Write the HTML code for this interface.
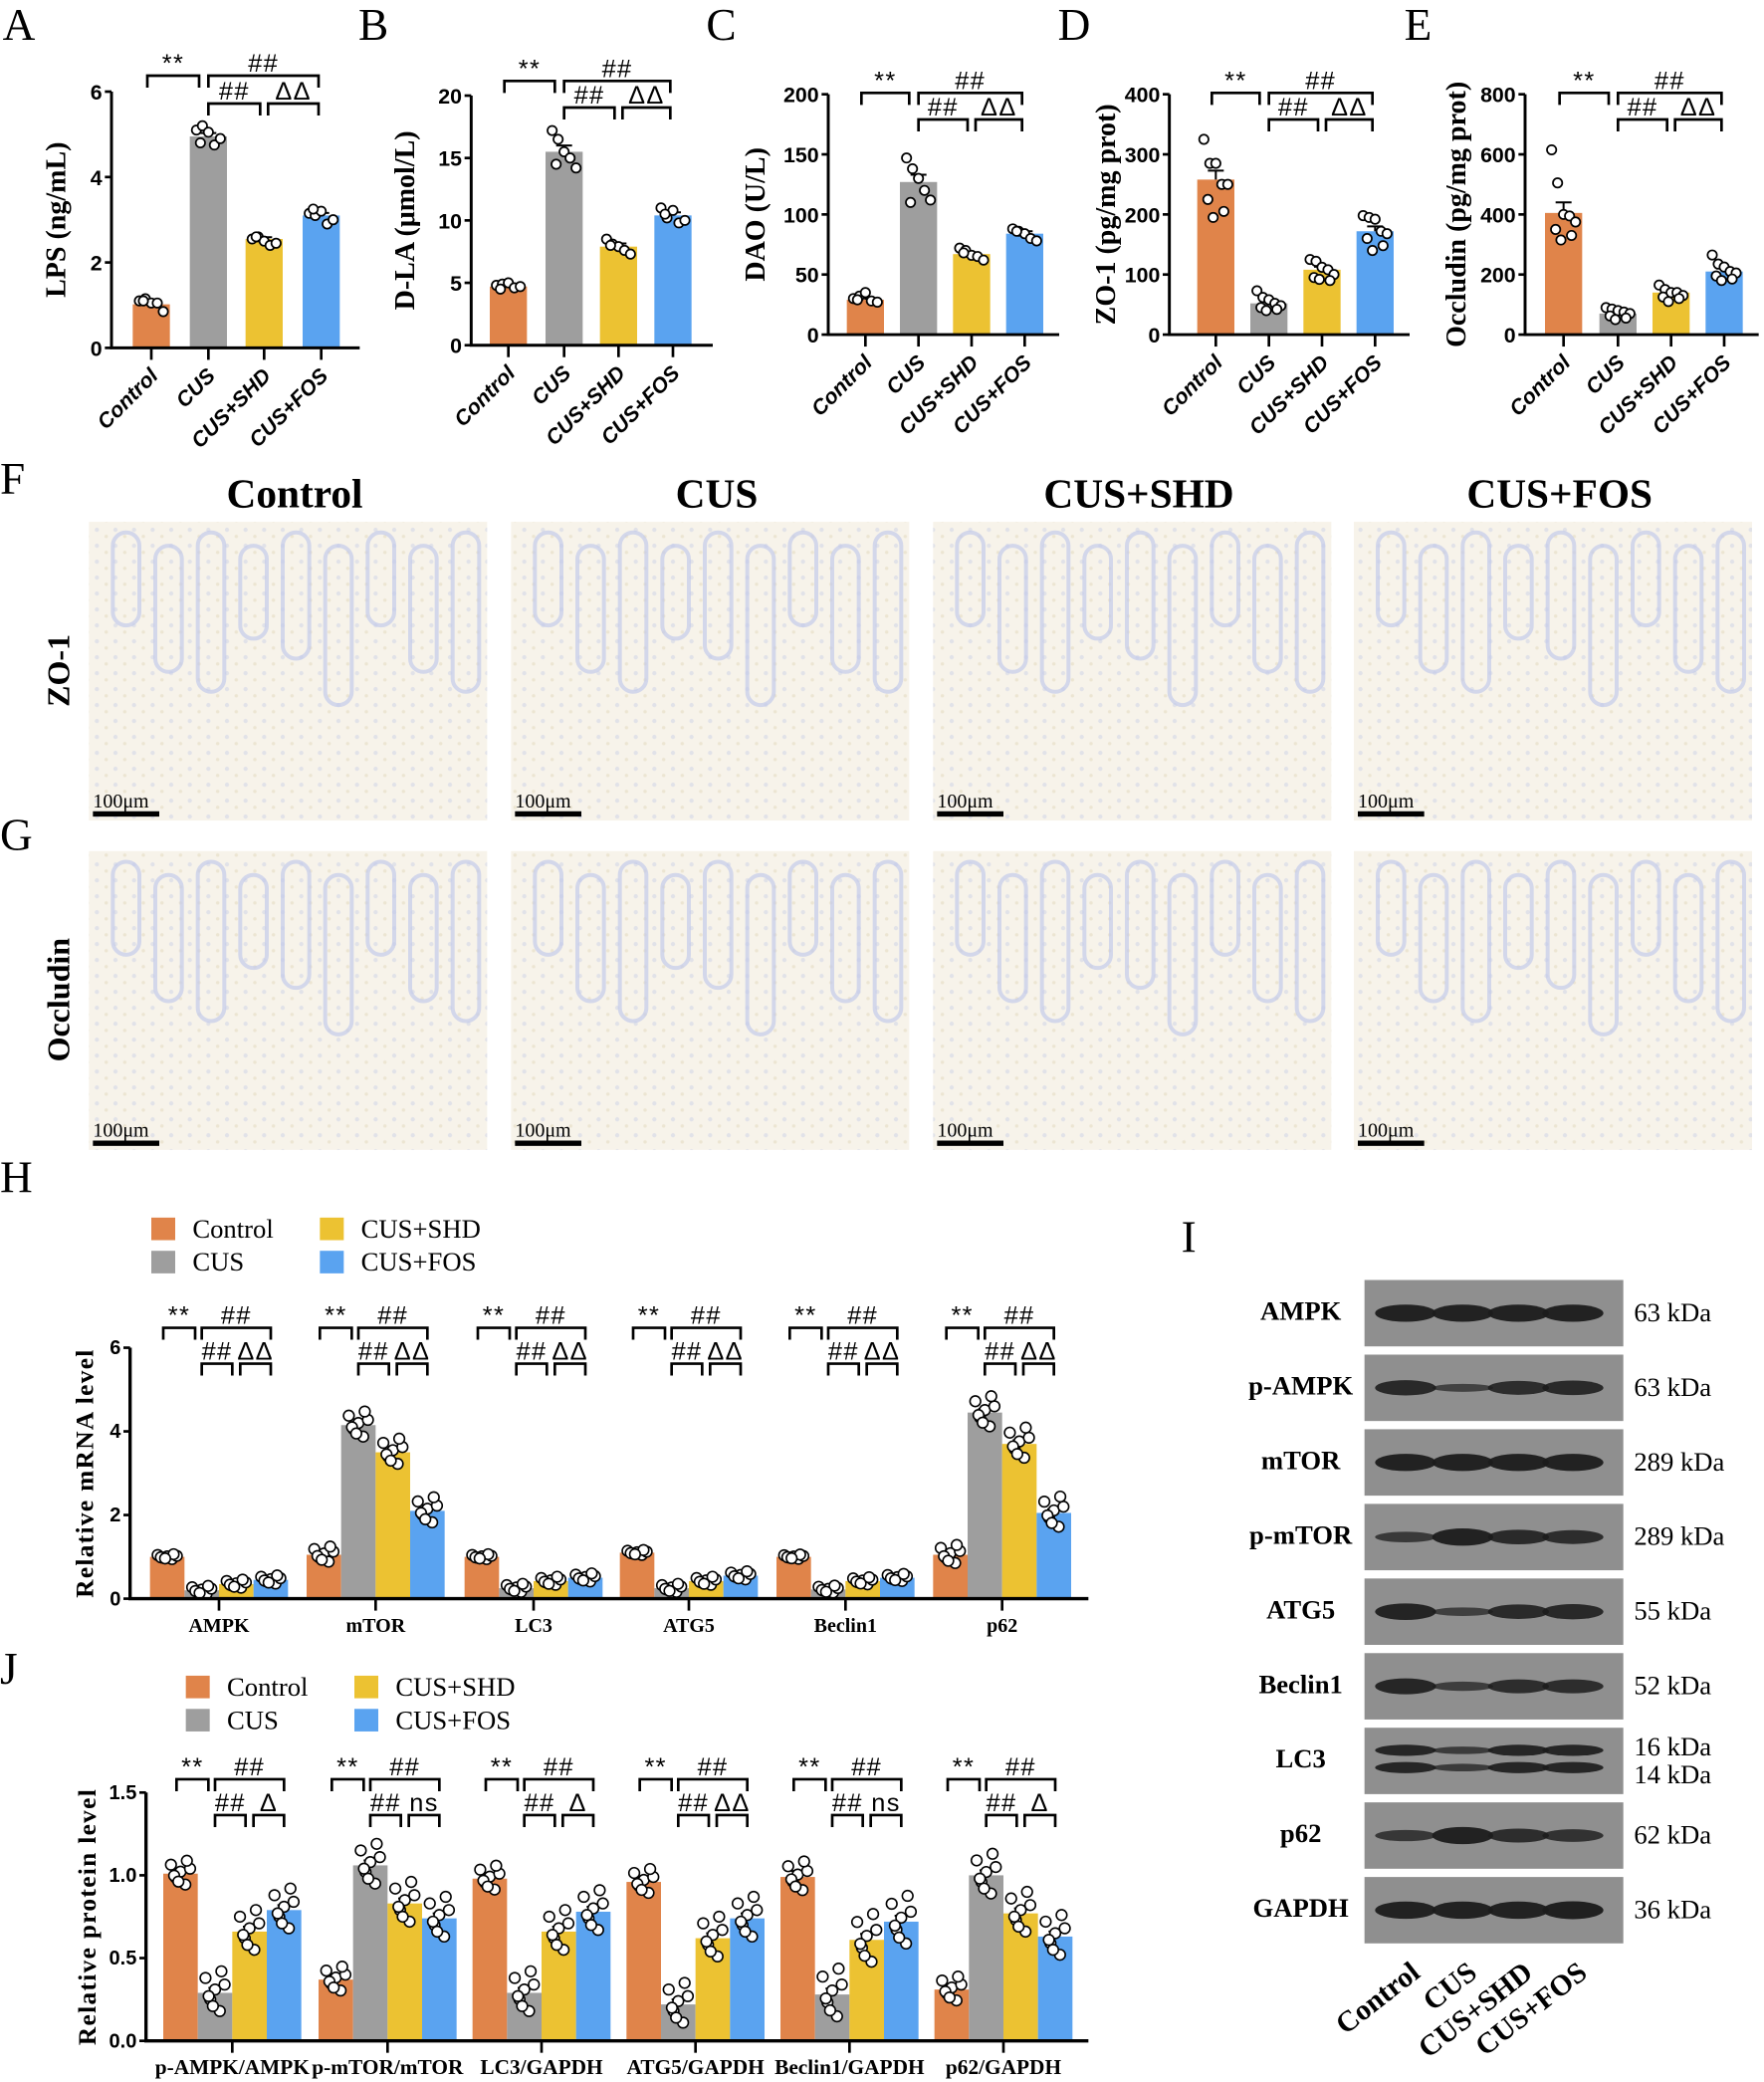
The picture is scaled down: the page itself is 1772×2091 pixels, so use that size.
<!DOCTYPE html>
<html><head><meta charset="utf-8"><style>
html,body{margin:0;padding:0;background:#fff}
svg{display:block}
.serif{font-family:"Liberation Serif",serif}
.sans{font-family:"Liberation Sans",sans-serif}
</style></head><body>
<svg id="fig" xmlns="http://www.w3.org/2000/svg" width="1772" height="2091" viewBox="0 0 1329 1568" preserveAspectRatio="none">
<defs>
<pattern id="cells" width="14" height="12" patternUnits="userSpaceOnUse">
<circle cx="3" cy="3" r="1.6" fill="#b8c2e6" opacity="0.7"/>
<circle cx="10" cy="8" r="1.3" fill="#c9b98a" opacity="0.5"/>
</pattern>
</defs>
<g id="root"></g>
</svg>
<script>
// ---------- Data: panels A–E ----------
const groups = ["Control","CUS","CUS+SHD","CUS+FOS"];
const colors = ["#e0844a","#9e9e9e","#ecc232","#5aa3f0"];
const lpsMeans = [1.02,4.95,2.55,3.1];
const lpsSem = [0.05,0.08,0.04,0.06];
const lpsPts = [[1.1,1.15,1.05,1.05,0.85,1.1],[5.1,5.2,5.05,4.75,4.9,4.8],[2.55,2.6,2.5,2.4,2.45,2.6],[3.15,3.1,3.2,2.9,3.0,3.25]];
const dlaMeans = [4.7,15.5,7.9,10.4];
const dlaSem = [0.15,0.5,0.25,0.25];
const dlaPts = [[4.8,4.9,5.0,4.6,4.7,4.5],[17.2,16.5,15.5,15,14.2,14.5],[8.5,8.1,7.9,7.6,7.3,8.0],[11,10.2,10.8,9.8,10.0,10.5]];
const daoMeans = [29,127,67,84];
const daoSem = [1.5,6,1.5,2];
const daoPts = [[30,32,35,28,27,29],[147,138,130,120,112,110],[72,70,66,65,62,68],[88,86,84,80,78,86]];
const zoMeans = [258,52,108,172];
const zoSem = [15,4,5,8];
const zoPts = [[325,285,285,250,250,225,205,195],[73,62,58,52,48,45,42,40],[125,122,112,108,100,95,90,92],[198,195,192,172,168,160,148,140]];
const occMeans = [405,70,140,210];
const occSem = [35,5,7,10];
const occPts = [[615,505,400,395,375,350,330,315],[90,85,80,75,70,62,55,50],[165,150,140,140,130,125,120,110],[265,235,225,210,205,195,185,180]];
const lpsTicks = [0,2,4,6];
const dlaTicks = [0,5,10,15,20];
const daoTicks = [0,50,100,150,200];
const zoTicks = [0,100,200,300,400];
const occTicks = [0,200,400,600,800];
// ---------- Data: panel H (mRNA) ----------
const hGenes = ["AMPK","mTOR","LC3","ATG5","Beclin1","p62"];
const hControl = [1.0,1.05,1.0,1.1,1.0,1.05];
const hCUS = [0.2,4.15,0.25,0.25,0.22,4.45];
const hSHD = [0.35,3.5,0.42,0.42,0.42,3.7];
const hFOS = [0.45,2.1,0.5,0.55,0.5,2.05];
const hSd = [0.08,0.25,0.08,0.08,0.07,0.3];
const hTicks = [0,2,4,6];
// ---------- Data: panel J (protein) ----------
const jRatios = ["p-AMPK/AMPK","p-mTOR/mTOR","LC3/GAPDH","ATG5/GAPDH","Beclin1/GAPDH","p62/GAPDH"];
const jControl = [1.01,0.37,0.98,0.96,0.99,0.31];
const jCUS = [0.29,1.06,0.29,0.22,0.28,1.0];
const jSHD = [0.66,0.83,0.66,0.62,0.61,0.77];
const jFOS = [0.79,0.74,0.78,0.74,0.72,0.63];
const jSd = [0.1,0.1,0.1,0.1,0.12,0.1];
const jTicks = [0.0,0.5,1.0,1.5];
const jLowerSig = ["Δ","ns","Δ","ΔΔ","ns","Δ"];
// ---------- Data: panel I (western blot) ----------
const blotProteins = ["AMPK","p-AMPK","mTOR","p-mTOR","ATG5","Beclin1","LC3","p62","GAPDH"];
const blotKda = ["63 kDa","63 kDa","289 kDa","289 kDa","55 kDa","52 kDa","16 kDa|14 kDa","62 kDa","36 kDa"];
const blotIntensity = [[1,1,1,1],[0.85,0.3,0.75,0.8],[1,1,1,1],[0.5,1,0.8,0.75],[0.95,0.35,0.8,0.85],[0.9,0.4,0.75,0.75],[0.9,0.45,0.9,0.9],[0.55,1,0.75,0.65],[1,1,1,1.05]];

const NS="http://www.w3.org/2000/svg";
const root=document.getElementById('root');
function mk(tag,attrs,parent,text){const e=document.createElementNS(NS,tag);for(const k in attrs)e.setAttribute(k,attrs[k]);if(text!==undefined)e.textContent=text;(parent||root).appendChild(e);return e;}
const spread=[-9,-4.5,0,4.5,9,-6,6,-2];
const vSpread=[0.9,-0.4,0.2,-1.1,0.5,-0.2,1.3,-0.8];

function letter(t,x,y){const e=mk('text',{x:x,y:y,'font-size':34,class:'serif'},root,t);

}
function bracket(g,x1,x2,y,h,label,nm){const p=mk('path',{d:`M${x1} ${y+h} V${y} H${x2} V${y+h}`,fill:'none',stroke:'#000','stroke-width':2},g);


const t=mk('text',{x:(x1+x2)/2,y:y-3,'text-anchor':'middle','font-size':19,class:'sans','letter-spacing':'1'},g,label);

}

// ---------- Panels A–E ----------
function barPanel(cfg,means,sem,pts,ticks){
 const g=mk('g',{},root);
 
 
 const max=ticks[ticks.length-1];
 const y=v=>cfg.y0-(v/max)*(cfg.y0-cfg.yTop);
 means.forEach((m,i)=>{const cx=cfg.centers[i];
  const r=mk('rect',{x:cx-14,y:y(m),width:28,height:cfg.y0-y(m),fill:colors[i]},g);
  
  
  const eb=mk('path',{d:`M${cx} ${y(m)} V${y(m+sem[i])} M${cx-6} ${y(m+sem[i])} H${cx+6}`,stroke:'#000','stroke-width':1.5},g);
  
  
  pts[i].forEach((v,k)=>{const c=mk('circle',{cx:cx+spread[k%spread.length],cy:y(v),r:3.5,fill:'#fff',stroke:'#000','stroke-width':1.3},g);
   
   });
 });
 const ax=mk('path',{d:`M${cfg.axisX} ${cfg.yTop} V${cfg.y0} H${cfg.axisEnd}`,fill:'none',stroke:'#000','stroke-width':2.2},g);
 
 
 ticks.forEach(t=>{const tk=mk('path',{d:`M${cfg.axisX-5} ${y(t)} H${cfg.axisX}`,stroke:'#000','stroke-width':2},g);
  
  
  const tl=mk('text',{x:cfg.axisX-7,y:y(t)+6,'text-anchor':'end','font-size':16,'font-weight':'bold',class:'sans'},g,String(t));
  
  });
 cfg.centers.forEach((cx,i)=>{const tk=mk('path',{d:`M${cx} ${cfg.y0} V${cfg.y0+9}`,stroke:'#000','stroke-width':2},g);
  
  
  const tl=mk('text',{x:cx+6,y:cfg.y0+22,'text-anchor':'end','font-size':16,'font-weight':'bold','font-style':'italic',class:'sans',transform:`rotate(-45 ${cx+6} ${cfg.y0+22})`},g,groups[i]);
  
  });
 const ty=(cfg.yTop+cfg.y0)/2;
 const tt=mk('text',{x:cfg.titleX,y:ty,'text-anchor':'middle','font-size':21,'font-weight':'bold',class:'serif',transform:`rotate(-90 ${cfg.titleX} ${ty})`},g,cfg.title);
 
 
 const c=cfg.centers;
 bracket(g,c[0]-3,c[1]-7,cfg.b1,9,'**','sig-control-cus');
 bracket(g,c[1],c[3]-2,cfg.b1,9,'##','sig-cus-treat');
 bracket(g,c[1],c[2]-3,cfg.b2,9,'##','sig-cus-shd');
 bracket(g,c[2]+3,c[3]-2,cfg.b2,9,'ΔΔ','sig-shd-fos');
}
letter('A',2,30);letter('B',270,30);letter('C',532,30);letter('D',797,30);letter('E',1058,30);
barPanel({name:'panel-a-lps',axisX:84,axisEnd:271,y0:262,yTop:69,centers:[114,157,199,242],title:'LPS (ng/mL)',titleX:49,b1:57,b2:78},lpsMeans,lpsSem,lpsPts,lpsTicks);
barPanel({name:'panel-b-dla',axisX:355,axisEnd:537,y0:260,yTop:72,centers:[383,425,466,507],title:'D-LA (μmol/L)',titleX:312,b1:61,b2:81},dlaMeans,dlaSem,dlaPts,dlaTicks);
barPanel({name:'panel-c-dao',axisX:624,axisEnd:798,y0:252,yTop:71,centers:[652,692,732,772],title:'DAO (U/L)',titleX:576,b1:70,b2:90},daoMeans,daoSem,daoPts,daoTicks);
barPanel({name:'panel-d-zo1',axisX:881,axisEnd:1062,y0:252,yTop:71,centers:[916,956,996,1036],title:'ZO-1 (pg/mg prot)',titleX:840,b1:70,b2:90},zoMeans,zoSem,zoPts,zoTicks);
barPanel({name:'panel-e-occludin',axisX:1149,axisEnd:1325,y0:252,yTop:71,centers:[1178,1219,1259,1299],title:'Occludin (pg/mg prot)',titleX:1104,b1:70,b2:90},occMeans,occSem,occPts,occTicks);

// ---------- Panels F & G (histology) ----------
letter('F',0,372);letter('G',0,640);
const imgX=[67,385,703,1020];
groups.forEach((gname,i)=>{const t=mk('text',{x:imgX[i]+155,y:382,'text-anchor':'middle','font-size':31,'font-weight':'bold',class:'serif'},root,gname);
 
 });
[['ZO-1',393,'zo1'],['Occludin',641,'occludin']].forEach(([lab,top,key])=>{
 const rl=mk('text',{x:52,y:top+112,'text-anchor':'middle','font-size':24,'font-weight':'bold',class:'serif',transform:`rotate(-90 52 ${top+112})`},root,lab);
 
 
 imgX.forEach((x,i)=>{
  const g=mk('g',{},root);
  
  
  mk('rect',{x:x,y:top,width:300,height:225,fill:'#f7f3ea'},g);
  mk('rect',{x:x,y:top,width:300,height:225,fill:'url(#cells)',opacity:0.5},g);
  for(let k=0;k<9;k++){const cx=x+18+k*32,h=70+(k%3)*25;
   mk('rect',{x:cx,y:top+8+(k%2)*10,width:20,height:h,rx:10,fill:'none',stroke:'#c3cbe9','stroke-width':3,opacity:0.7},g);}
  const st=mk('text',{x:x+3,y:top+215,'font-size':15,class:'serif'},g,'100μm');
  
  
  const sb=mk('rect',{x:x+3,y:top+218,width:50,height:4,fill:'#000'},g);
  
  
 });
});

// ---------- Grouped charts H & J ----------
function legend(x,y,nm){const g=mk('g',{},root);
 
 
 groups.forEach((gn,i)=>{const col=i===0||i===1?0:1,row=i%2;
  const lx=x+col*127,ly=y+row*25;
  const s=mk('rect',{x:lx,y:ly,width:18,height:17,fill:colors[i]},g);
  
  
  const t=mk('text',{x:lx+31,y:ly+15,'font-size':20,class:'serif'},g,gn);
  
  });}
function grouped(cfg,cats,series,sd,ticks,lowerSig){
 const g=mk('g',{},root);
 
 
 const max=ticks[ticks.length-1];
 const y=v=>cfg.y0-(v/max)*(cfg.y0-cfg.yTop);
 const bw=26;
 cats.forEach((cat,ci)=>{const gc=cfg.centers[ci];
  const cxs=[0,1,2,3].map(k=>gc+(k-1.5)*bw);
  series.forEach((s,k)=>{const m=s[ci],cx=cxs[k];
   const r=mk('rect',{x:cx-bw/2,y:y(m),width:bw,height:cfg.y0-y(m),fill:colors[k]},g);
   
   
   const eb=mk('path',{d:`M${cx-5} ${y(m+sd[ci]*0.3)} H${cx+5} M${cx} ${y(m)} V${y(m+sd[ci]*0.3)}`,stroke:'#000','stroke-width':1.5},g);
   
   
   spread.forEach((o,p)=>{const v=m+vSpread[p]*sd[ci]*(k===0?0.6:1);
    const c=mk('circle',{cx:cx+o*0.8,cy:y(v),r:4,fill:'#fff',stroke:'#000','stroke-width':1.2},g);
    
    });
  });
  const tk=mk('path',{d:`M${gc} ${cfg.y0} V${cfg.y0+9}`,stroke:'#000','stroke-width':2},g);
  
  
  const tl=mk('text',{x:gc,y:cfg.y0+cfg.labDy,'text-anchor':'middle','font-size':cfg.labSize,'font-weight':'bold',class:'serif'},g,cat);
  
  
  bracket(g,cxs[0]-3,cxs[1]-5,cfg.b1,9,'**','sig-control-cus');
  bracket(g,cxs[1],cxs[3],cfg.b1,9,'##','sig-cus-treat');
  bracket(g,cxs[1],cxs[2]-3,cfg.b2,9,'##','sig-cus-shd');
  bracket(g,cxs[2]+3,cxs[3],cfg.b2,9,lowerSig[ci],'sig-shd-fos');
 });
 const ax=mk('path',{d:`M${cfg.axisX} ${cfg.yTop} V${cfg.y0} H${cfg.axisEnd}`,fill:'none',stroke:'#000','stroke-width':2.5},g);
 
 
 ticks.forEach(t=>{const tk=mk('path',{d:`M${cfg.axisX-5} ${y(t)} H${cfg.axisX}`,stroke:'#000','stroke-width':2},g);
  
  
  const tl=mk('text',{x:cfg.axisX-7,y:y(t)+5,'text-anchor':'end','font-size':15,'font-weight':'bold',class:'sans'},g,cfg.fmt(t));
  
  });
 const ty=(cfg.yTop+cfg.y0)/2;
 const tt=mk('text',{x:cfg.titleX,y:ty,'text-anchor':'middle','font-size':19,'font-weight':'bold',class:'serif','letter-spacing':'1',transform:`rotate(-90 ${cfg.titleX} ${ty})`},g,cfg.title);
 
 
}
letter('H',0,898);
legend(114,917,'legend-h');
grouped({name:'panel-h-mrna',axisX:98,axisEnd:820,y0:1204,yTop:1015,centers:[165,283,402,519,637,755],title:'Relative mRNA level',titleX:70,b1:1000,b2:1027,labDy:25,labSize:15,fmt:t=>String(t)},hGenes,[hControl,hCUS,hSHD,hFOS],hSd,hTicks,["ΔΔ","ΔΔ","ΔΔ","ΔΔ","ΔΔ","ΔΔ"]);
letter('J',0,1268);
legend(140,1262,'legend-j');
grouped({name:'panel-j-protein',axisX:110,axisEnd:820,y0:1537,yTop:1350,centers:[175,292,408,524,640,756],title:'Relative protein level',titleX:72,b1:1340,b2:1367,labDy:25,labSize:16,fmt:t=>t.toFixed(1)},jRatios,[jControl,jCUS,jSHD,jFOS],jSd,jTicks,jLowerSig);

// ---------- Panel I (western blots) ----------
const li=mk('text',{x:890,y:943,'font-size':34,class:'serif'},root,'I');


const lanes=[1059,1102,1144,1185];
blotProteins.forEach((p,r)=>{const top=964+r*56.2;
 const g=mk('g',{},root);
 
 
 mk('rect',{x:1028,y:top,width:195,height:50,fill:'#8f8f8f'},g);
 const lb=mk('text',{x:980,y:top+30,'text-anchor':'middle','font-size':20,'font-weight':'bold',class:'serif'},g,p);
 
 
 const kd=blotKda[r].split('|');
 kd.forEach((k,j)=>{const t=mk('text',{x:1231,y:kd.length>1?top+21+j*21:top+31,'font-size':20,class:'serif'},g,k);
  
  });
 lanes.forEach((lx,l)=>{const v=blotIntensity[r][l];
  const rows=p==='LC3'?[top+17,top+30]:[top+25];
  rows.forEach(yy=>{const b=mk('ellipse',{cx:lx,cy:yy,rx:23,ry:(p==='LC3'?3:5)*v+1.5,fill:'#1c1c1c',opacity:0.55+0.4*v},g);
   
   });
 });
});
groups.forEach((gn,i)=>{const x=lanes[i]+12,y=1488;
 const t=mk('text',{x:x,y:y,'text-anchor':'end','font-size':22,'font-weight':'bold',class:'serif',transform:`rotate(-38 ${x} ${y})`},root,gn);
 
 });
</script>
</body></html>
